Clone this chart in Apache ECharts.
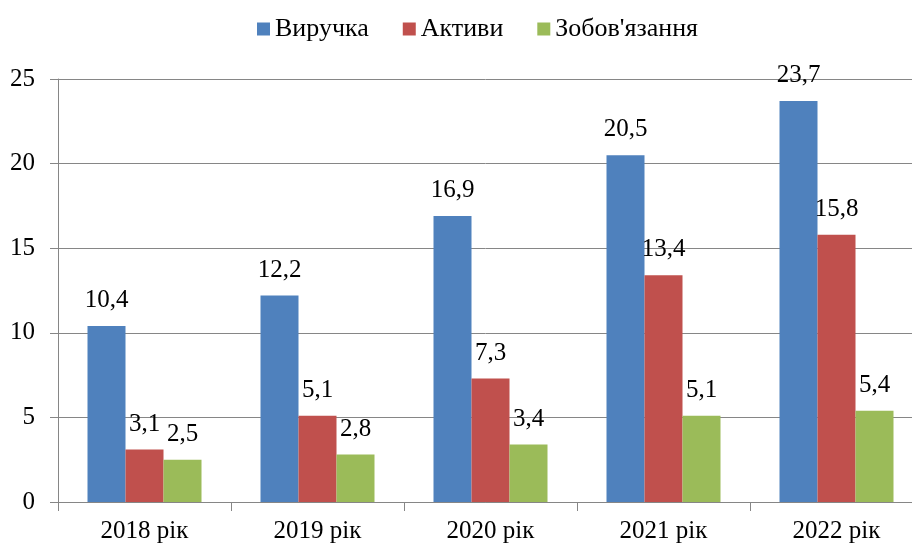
<!DOCTYPE html>
<html>
<head>
<meta charset="utf-8">
<script src="https://cdn.jsdelivr.net/npm/echarts@6/dist/echarts.min.js"></script>
<style>
  html, body { margin: 0; padding: 0; background: #fff; }
  #main { width: 912px; height: 547px; }
</style>
</head>
<body>
<div id="main"></div>
<script>
// дані діаграми
const categories = ['2018 рік', '2019 рік', '2020 рік', '2021 рік', '2022 рік'];
const revenue = [10.4, 12.2, 16.9, 20.5, 23.7];
const assets = [3.1, 5.1, 7.3, 13.4, 15.8];
const liabilities = [2.5, 2.8, 3.4, 5.1, 5.4];
const seriesNames = ['Виручка', 'Активи', "Зобов'язання"];
const colors = ['#4F81BD', '#C0504D', '#9BBB59'];

const font = 'Liberation Serif';

const myChart = echarts.init(document.getElementById('main'));

// підписи над стовпцями, з комою замість крапки
const label = {
  show: true,
  position: 'top',
  distance: 13,
  color: '#000',
  fontFamily: font,
  fontSize: 25,
  formatter: p => String(p.value).replace('.', ',')
};

const option = {
  animation: false,
  color: colors,
  textStyle: { fontFamily: font },
  legend: {
    top: 11,
    left: 252,
    icon: 'rect',
    itemWidth: 13,
    itemHeight: 13,
    itemGap: 34,
    textStyle: { fontFamily: font, fontSize: 26, color: '#000' },
    data: seriesNames
  },
  // сітка трохи виходить за правий край, як в оригіналі
  grid: { left: 58, top: 79, width: 865, height: 423, containLabel: false, outerBoundsMode: 'none' },
  xAxis: {
    type: 'category',
    data: categories,
    axisLine: { lineStyle: { color: '#868686' } },
    axisTick: { show: true, length: 9, lineStyle: { color: '#868686' } },
    axisLabel: { color: '#000', fontFamily: font, fontSize: 25, margin: 17 }
  },
  yAxis: {
    type: 'value',
    min: 0,
    max: 25,
    interval: 5,
    axisLine: { show: true, lineStyle: { color: '#868686' } },
    axisTick: { show: true, length: 8, lineStyle: { color: '#868686' } },
    axisLabel: { color: '#000', fontFamily: font, fontSize: 25, margin: 23 },
    splitLine: { lineStyle: { color: '#868686' } }
  },
  series: [
    { name: seriesNames[0], type: 'bar', data: revenue, barWidth: 38, barGap: '0%', label: label },
    { name: seriesNames[1], type: 'bar', data: assets, barWidth: 38, barGap: '0%', label: label },
    { name: seriesNames[2], type: 'bar', data: liabilities, barWidth: 38, barGap: '0%', label: label }
  ]
};

myChart.setOption(option);
</script>
</body>
</html>
